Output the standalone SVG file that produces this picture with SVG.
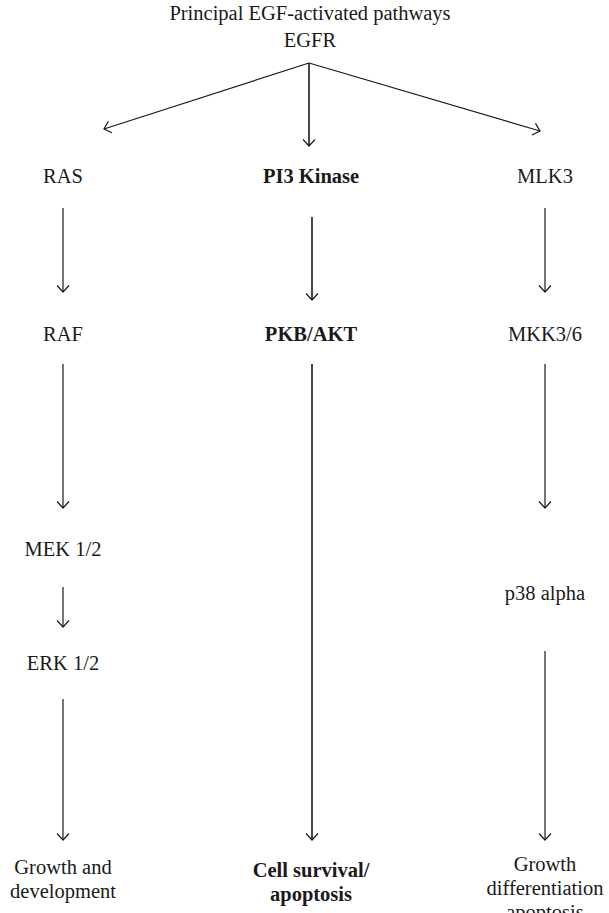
<svg xmlns="http://www.w3.org/2000/svg" width="609" height="913" viewBox="0 0 609 913">
<style>
text{font-family:"Liberation Serif",serif;font-size:20.5px;fill:#1a1a1a;text-anchor:middle}
.b{font-weight:bold}
.c{stroke:#1a1a1a;stroke-width:1.2;fill:none}
.m{stroke-width:1.6}
</style>
<defs>
<marker id="ah" viewBox="-8 -8 16 16" markerWidth="16" markerHeight="16" refX="0" refY="0" orient="auto" markerUnits="userSpaceOnUse">
<path d="M-6.5,-6 L0,0 L-6.5,6" fill="none" stroke="#1a1a1a" stroke-width="1.2"/>
</marker>
</defs>
<rect width="609" height="913" fill="#fff"/>
<g id="title"><text x="310" y="20">Principal EGF-activated pathways</text></g>
<g id="egfr"><text x="310" y="47">EGFR</text></g>
<g id="ras"><text x="63" y="183">RAS</text></g>
<g id="pi3k"><text class="b" x="311" y="183">PI3 Kinase</text></g>
<g id="mlk3"><text x="545" y="183">MLK3</text></g>
<g id="raf"><text x="63" y="341">RAF</text></g>
<g id="pkb"><text class="b" x="311" y="341">PKB/AKT</text></g>
<g id="mkk"><text x="545" y="341">MKK3/6</text></g>
<g id="mek"><text x="63" y="556">MEK 1/2</text></g>
<g id="erk"><text x="63" y="670">ERK 1/2</text></g>
<g id="p38"><text x="545" y="600">p38 alpha</text></g>
<g id="growth1"><text x="63" y="874">Growth and</text><text x="63" y="898">development</text></g>
<g id="survival"><text class="b" x="311" y="877">Cell survival/</text><text class="b" x="311" y="901">apoptosis</text></g>
<g id="growth2"><text x="545" y="871">Growth</text><text x="545" y="895">differentiation</text><text x="545" y="919">apoptosis</text></g>
<g id="connectors">
<line class="c" x1="309" y1="63" x2="104" y2="129" marker-end="url(#ah)"/>
<line class="c m" x1="309" y1="63" x2="309" y2="146" marker-end="url(#ah)"/>
<line class="c" x1="309" y1="63" x2="540" y2="131" marker-end="url(#ah)"/>
<line class="c" x1="63" y1="208" x2="63" y2="292" marker-end="url(#ah)"/>
<line class="c m" x1="312" y1="217" x2="312" y2="300" marker-end="url(#ah)"/>
<line class="c" x1="545" y1="208" x2="545" y2="292" marker-end="url(#ah)"/>
<line class="c" x1="63" y1="364" x2="63" y2="508" marker-end="url(#ah)"/>
<line class="c m" x1="312" y1="364" x2="312" y2="840" marker-end="url(#ah)"/>
<line class="c" x1="545" y1="364" x2="545" y2="508" marker-end="url(#ah)"/>
<line class="c" x1="63" y1="587" x2="63" y2="627" marker-end="url(#ah)"/>
<line class="c" x1="63" y1="699" x2="63" y2="840" marker-end="url(#ah)"/>
<line class="c" x1="545" y1="651" x2="545" y2="840" marker-end="url(#ah)"/>
</g>
</svg>
